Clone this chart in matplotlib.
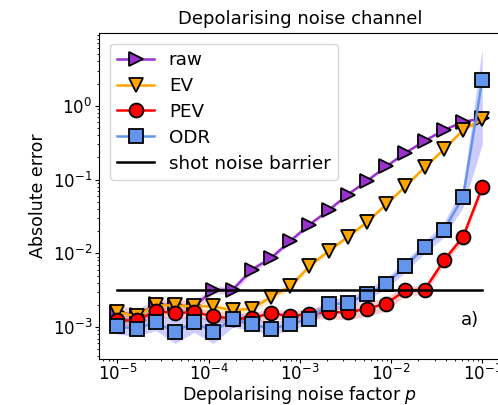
import numpy as np
import matplotlib.pyplot as plt

# noise factors (20 log-spaced points between 1e-5 and 1e-1)
p = np.logspace(-5, -1, 20)

raw = [1.6e-3, 1.44e-3, 2.03e-3, 1.97e-3, 1.91e-3, 3.2e-3, 3.2e-3, 6.0e-3, 8.65e-3, 1.47e-2,
       2.45e-2, 3.84e-2, 6.27e-2, 9.6e-2, 0.151, 0.23, 0.335, 0.468, 0.607, 0.676]
raw_lo = [1.3e-3, 1.2e-3, 1.6e-3, 1.6e-3, 1.6e-3, 2.8e-3, 2.8e-3, 5.4e-3, 7.9e-3, 1.36e-2,
          2.3e-2, 3.65e-2, 6.0e-2, 9.2e-2, 0.145, 0.222, 0.325, 0.455, 0.59, 0.66]
raw_hi = [2.0e-3, 1.75e-3, 2.4e-3, 2.35e-3, 2.3e-3, 3.6e-3, 3.6e-3, 6.6e-3, 9.4e-3, 1.58e-2,
          2.6e-2, 4.05e-2, 6.55e-2, 0.1, 0.157, 0.238, 0.345, 0.48, 0.62, 0.69]

ev = [1.6e-3, 1.4e-3, 1.97e-3, 1.97e-3, 1.91e-3, 1.91e-3, 1.68e-3, 1.78e-3, 2.55e-3, 3.56e-3,
      6.67e-3, 1.08e-2, 1.67e-2, 2.66e-2, 4.62e-2, 8.1e-2, 0.146, 0.256, 0.468, 0.653]
ev_lo = [1.35e-3, 1.2e-3, 1.7e-3, 1.7e-3, 1.65e-3, 1.65e-3, 1.45e-3, 1.55e-3, 2.25e-3, 3.2e-3,
         6.1e-3, 1.0e-2, 1.57e-2, 2.52e-2, 4.4e-2, 7.8e-2, 0.14, 0.248, 0.455, 0.64]
ev_hi = [1.9e-3, 1.65e-3, 2.3e-3, 2.3e-3, 2.2e-3, 2.2e-3, 1.95e-3, 2.05e-3, 2.9e-3, 3.95e-3,
         7.3e-3, 1.16e-2, 1.77e-2, 2.8e-2, 4.85e-2, 8.4e-2, 0.152, 0.264, 0.48, 0.666]

pev = [1.23e-3, 1.23e-3, 1.65e-3, 1.55e-3, 1.6e-3, 1.4e-3, 1.3e-3, 1.32e-3, 1.55e-3, 1.4e-3,
       1.52e-3, 1.6e-3, 1.58e-3, 1.78e-3, 2.08e-3, 3.15e-3, 3.2e-3, 8.0e-3, 1.67e-2, 7.9e-2]
pev_lo = [1.05e-3, 1.05e-3, 1.4e-3, 1.3e-3, 1.35e-3, 1.2e-3, 1.1e-3, 1.12e-3, 1.3e-3, 1.2e-3,
          1.28e-3, 1.3e-3, 1.25e-3, 1.4e-3, 1.65e-3, 2.7e-3, 2.75e-3, 7.0e-3, 1.45e-2, 6.8e-2]
pev_hi = [1.45e-3, 1.45e-3, 1.9e-3, 1.8e-3, 1.85e-3, 1.65e-3, 1.55e-3, 1.55e-3, 1.8e-3, 1.65e-3,
          1.8e-3, 1.95e-3, 1.95e-3, 2.2e-3, 2.55e-3, 3.6e-3, 3.65e-3, 9.0e-3, 1.9e-2, 9.0e-2]

odr = [1.02e-3, 0.95e-3, 1.17e-3, 0.855e-3, 1.17e-3, 0.855e-3, 1.30e-3, 1.09e-3, 0.95e-3, 1.09e-3,
       1.30e-3, 2.03e-3, 2.12e-3, 2.78e-3, 3.88e-3, 6.67e-3, 1.22e-2, 2.06e-2, 5.82e-2, 2.23]
odr_lo = [0.8e-3, 0.75e-3, 0.9e-3, 0.6e-3, 0.85e-3, 0.6e-3, 1.0e-3, 0.9e-3, 0.8e-3, 0.9e-3,
          1.1e-3, 1.7e-3, 1.8e-3, 2.35e-3, 3.3e-3, 5.6e-3, 1.0e-2, 1.65e-2, 4.2e-2, 0.3]
odr_hi = [1.4e-3, 1.3e-3, 1.55e-3, 1.25e-3, 1.5e-3, 1.2e-3, 1.65e-3, 1.35e-3, 1.15e-3, 1.3e-3,
          1.55e-3, 2.4e-3, 2.5e-3, 3.3e-3, 4.6e-3, 7.9e-3, 1.45e-2, 2.6e-2, 8.0e-2, 6.0]

shot_noise = 3.16e-3

plt.rcParams['font.size'] = 12
plt.rcParams['xtick.major.size'] = 3
plt.rcParams['ytick.major.size'] = 3
plt.rcParams['xtick.minor.size'] = 1.5
plt.rcParams['ytick.minor.size'] = 1.5
plt.rcParams['xtick.major.pad'] = 1
plt.rcParams['ytick.major.pad'] = 2

fig = plt.figure(figsize=(4.98, 4.05), dpi=100)
ax = fig.add_axes([0.199, 0.114, 0.806, 0.805])

series = [
    (raw, raw_lo, raw_hi, 'darkorchid', 'darkorchid', '>', 'raw'),
    (ev, ev_lo, ev_hi, 'orange', 'orange', 'v', 'EV'),
    (pev, pev_lo, pev_hi, 'red', 'red', 'o', 'PEV'),
    (odr, odr_lo, odr_hi, 'cornflowerblue', 'blue', 's', 'ODR'),
]

for y, lo, hi, c, band_c, m, lab in series:
    ax.fill_between(p, lo, hi, color=band_c, alpha=0.2, lw=0)
    ax.plot(p, y, color=c, marker=m, ms=10, mfc=c, mec='black', mew=1.3, lw=1.8, label=lab)

ax.plot([p[0], p[-1]], [shot_noise, shot_noise], color='black', lw=1.8, label='shot noise barrier')

ax.set_xscale('log')
ax.set_yscale('log')
ax.set_ylim(10**-3.43, 10**0.99)
ax.set_title('Depolarising noise channel', fontsize=13)
ax.set_xlabel('Depolarising noise factor $p$', fontsize=12.5, labelpad=-0.5)
ax.set_ylabel('Absolute error', fontsize=12.5)
ax.text(0.925, 0.12, 'a)', transform=ax.transAxes, ha='center', va='center', fontsize=13)
ax.legend(loc='upper left', fontsize=13.2, labelspacing=0.43, borderaxespad=0.6)

fig.savefig('out.png', dpi=100)
